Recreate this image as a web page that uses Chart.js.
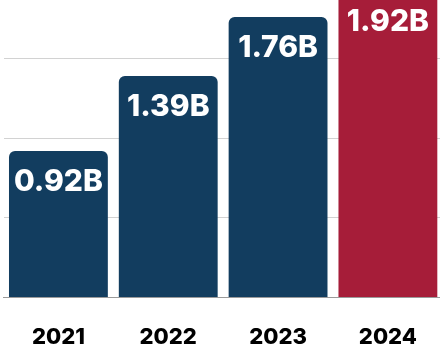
<!DOCTYPE html>
<html lang="en">
<head>
  <meta charset="UTF-8" />
  <title>Yearly Totals</title>
  <script src="https://cdn.jsdelivr.net/npm/chart.js"></script>
  <style>
    html, body { margin: 0; padding: 0; background: #fff; overflow: hidden; }
    #wrap { position: absolute; left: 0; top: -30px; width: 444px; height: 408px; }
  </style>
</head>
<body>
  <div id="wrap">
    <canvas id="yearChart"></canvas>
  </div>

  <script>
    // Totals per year, in billions
    const years = ['2021', '2022', '2023', '2024'];
    const totals = [0.92, 1.39, 1.76, 1.92];
    const valueLabels = ['0.92B', '1.39B', '1.76B', '1.92B'];
    const barColors = ['#123d5f', '#123d5f', '#123d5f', '#a61d39'];

    // Writes the value inside the top of each bar
    const barValueLabels = {
      id: 'barValueLabels',
      afterDatasetsDraw(chart) {
        const ctx = chart.ctx;
        const meta = chart.getDatasetMeta(0);
        ctx.save();
        ctx.fillStyle = '#ffffff';
        ctx.font = '800 30px Inter';
        ctx.textAlign = 'center';
        ctx.textBaseline = 'middle';
        meta.data.forEach((bar, i) => {
          ctx.fillText(valueLabels[i], bar.x, bar.y + 31);
        });
        ctx.restore();
      }
    };

    const ctx = document.getElementById('yearChart').getContext('2d');
    new Chart(ctx, {
      type: 'bar',
      data: {
        labels: years,
        datasets: [{
          data: totals,
          backgroundColor: barColors,
          borderRadius: 6,
          borderSkipped: 'bottom',
          barPercentage: 1,
          categoryPercentage: 0.9
        }]
      },
      options: {
        responsive: true,
        maintainAspectRatio: false,
        animation: false,
        layout: { padding: { left: 3.5, right: 0.5, top: 8.7, bottom: 0 } },
        plugins: {
          legend: { display: false },
          tooltip: { enabled: false }
        },
        scales: {
          x: {
            grid: { display: false, drawTicks: false },
            border: { display: true, color: '#9a9a9a', width: 1 },
            ticks: {
              color: '#000',
              padding: 27,
              font: { family: 'Inter', size: 22, weight: '800' }
            }
          },
          y: {
            min: 0,
            max: 2,
            ticks: { display: false, stepSize: 0.5 },
            grid: { color: '#d2d2d2', lineWidth: 1, drawTicks: false },
            border: { display: false }
          }
        }
      },
      plugins: [barValueLabels]
    });
  </script>
</body>
</html>
